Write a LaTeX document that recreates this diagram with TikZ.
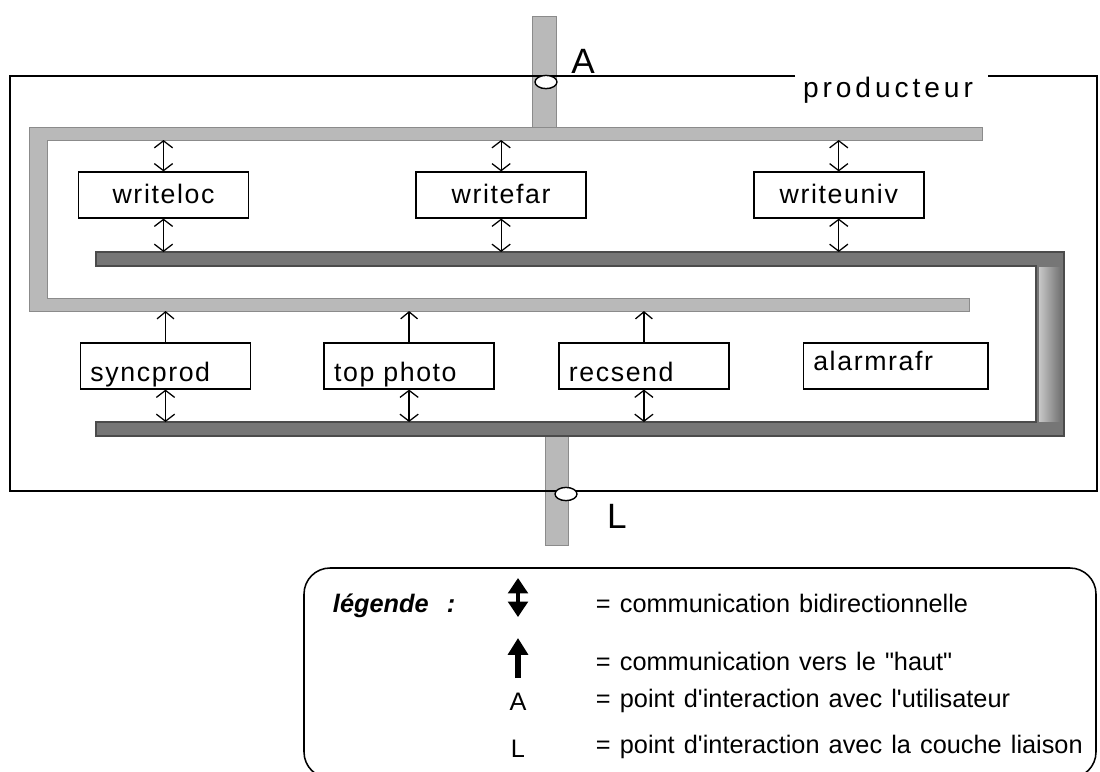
\documentclass[tikz,border=0pt]{standalone}
\usepackage{fontspec}
\setmainfont{Liberation Sans}
\newfontfamily\boxfont[LetterSpace=6]{Liberation Sans}
\newfontfamily\titlefont[LetterSpace=14]{Liberation Sans}
\newfontfamily\legfont[WordSpace=1.3]{Liberation Sans}
\usepackage{tikz}
\usetikzlibrary{positioning,arrows.meta,shapes.geometric}
\definecolor{lightbus}{RGB}{185,185,185}
\definecolor{darkbus}{RGB}{118,118,118}
\definecolor{busedge}{RGB}{75,75,75}

\begin{document}
\begin{tikzpicture}[
        x=0.025cm, y=-0.025cm,
        procbox/.style={rectangle, draw, line width=1.1pt, minimum width=4.25cm, minimum height=1.14cm,
                        inner sep=2pt, font=\boxfont\fontsize{19}{22}\selectfont, text height=12pt, text depth=0pt},
        lowbox/.style={procbox, text width=3.75cm, align=left, text height=22pt},
        bidir/.style={{Straight Barb[length=5pt,width=13pt]}-{Straight Barb[length=5pt,width=13pt]}, line width=0.9pt},
        upward/.style={-{Straight Barb[length=5pt,width=12pt]}, line width=0.9pt},
        lightfill/.style={fill=lightbus, draw=lightbus!75!black, line width=0.5pt},
        darkfill/.style={fill=darkbus, draw=busedge, line width=1pt},
        port/.style={ellipse, draw, fill=white, line width=1pt, minimum width=0.55cm, minimum height=0.33cm, inner sep=0pt},
        legtext/.style={anchor=base west, font=\legfont\fontsize{18}{21}\selectfont},
        legbi/.style={line width=2.5pt, {Triangle[length=11pt,width=14pt]}-{Triangle[length=11pt,width=14pt]}},
        legup/.style={line width=4pt, -{Triangle[length=12pt,width=14pt]}}
    ]
        \clip (0,0) rectangle (1100,771);

        % bus
        \path[lightfill] (532,16) rectangle (556,130);
        \path[lightfill] (545,430) rectangle (568,545);
        \path[lightfill] (982,127) -- (29,127) -- (29,311) -- (969,311) -- (969,298)
                         -- (47,298) -- (47,140) -- (982,140) -- cycle;
        \path[darkfill] (96,252) -- (1064,252) -- (1064,436) -- (96,436) -- (96,422)
                        -- (1036,422) -- (1036,266) -- (96,266) -- cycle;
        \shade[left color=lightbus!80!white, right color=darkbus] (1039,267) rectangle (1060,421);
        \coordinate (lbtop) at (0,140);
        \coordinate (dbtop) at (0,252);
        \coordinate (lbbot) at (0,311);
        \coordinate (dbbot) at (0,422);

        % cadre producteur
        \draw[line width=1.3pt] (795,76) -- (10,76) -- (10,491) -- (1097,491) -- (1097,76) -- (988,76);
        \node[font=\titlefont\fontsize{20}{24}\selectfont, anchor=base] (title) at (888,97) {producteur};
        \node[port] (portA) at (546,82) {};
        \node[port] (portL) at (566,494) {};
        \node[font=\fontsize{25}{30}\selectfont, anchor=base] (labA) at (583,73) {A};
        \node[font=\fontsize{25}{30}\selectfont, anchor=base] (labL) at (617,528) {L};

        % modules
        \node[procbox] (writeloc) at (163.5,195) {writeloc};
        \node[procbox, right=4.15cm of writeloc] (writefar) {writefar};
        \node[procbox, right=4.15cm of writefar] (writeuniv) {writeuniv};
        \node[lowbox] (syncprod) at (165.5,366) {syncprod};
        \node[lowbox, right=1.8cm of syncprod] (topphoto) {top photo};
        \node[lowbox, right=1.58cm of topphoto] (recsend) {recsend};
        \node[lowbox, text width=4.12cm, minimum width=4.62cm, text height=6.4pt,
              right=1.82cm of recsend] (alarmrafr) {alarmrafr};

        % communications
        \draw[bidir] (writeloc.north |- lbtop) -- (writeloc.north);
        \draw[bidir] (writeloc.south) -- (writeloc.south |- dbtop);
        \draw[bidir] (writefar.north |- lbtop) -- (writefar.north);
        \draw[bidir] (writefar.south) -- (writefar.south |- dbtop);
        \draw[bidir] (writeuniv.north |- lbtop) -- (writeuniv.north);
        \draw[bidir] (writeuniv.south) -- (writeuniv.south |- dbtop);
        \draw[upward] (syncprod.north) -- (syncprod.north |- lbbot);
        \draw[bidir] (syncprod.south) -- (syncprod.south |- dbbot);
        \draw[upward] (topphoto.north) -- (topphoto.north |- lbbot);
        \draw[bidir] (topphoto.south) -- (topphoto.south |- dbbot);
        \draw[upward] (recsend.north) -- (recsend.north |- lbbot);
        \draw[bidir] (recsend.south) -- (recsend.south |- dbbot);

        % legende
        \draw[line width=1.1pt, rounded corners=0.65cm] (304,568) rectangle (1096,778);
        \node[legtext, font=\legfont\fontsize{18}{21}\selectfont\bfseries\itshape] (legtitle) at (328,612) {légende~~:};
        \coordinate (bitop) at (518,578);
        \coordinate (bibot) at (518,617);
        \coordinate (uptop) at (518,638);
        \coordinate (upbot) at (518,678);
        \draw[legbi] (bitop) -- (bibot);
        \draw[legup] (upbot) -- (uptop);
        \node[anchor=base, font=\fontsize{18}{21}\selectfont] (legkeyA) at (518,710) {A};
        \node[anchor=base, font=\fontsize{18}{21}\selectfont] (legkeyL) at (518,757) {L};
        \node[legtext] (legbidir) at (591,612) {= communication bidirectionnelle};
        \node[legtext] (leghaut) at (591,670) {= communication vers le "haut"};
        \node[legtext] (leguser) at (591,707) {= point d'interaction avec l'utilisateur};
        \node[legtext] (legliaison) at (591,753) {= point d'interaction avec la couche liaison};
    \end{tikzpicture}
\end{document}
